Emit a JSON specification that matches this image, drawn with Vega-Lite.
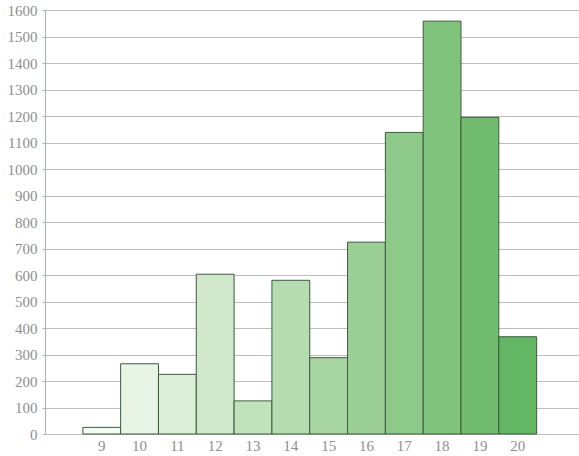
{
  "$schema": "https://vega.github.io/schema/vega-lite/v6.json",
  "width": 534,
  "height": 424,
  "autosize": {"type": "none"},
  "padding": {"left": 45, "top": 10, "right": 0, "bottom": 22},
  "background": "white",
  "config": {
    "view": {"stroke": null},
    "axis": {"labelFont": "Liberation Serif", "labelFontSize": 15, "labelColor": "#8e8e8e"}
  },
  "data": {
    "values": [
      {"x": 9, "count": 25},
      {"x": 10, "count": 265},
      {"x": 11, "count": 225},
      {"x": 12, "count": 603},
      {"x": 13, "count": 125},
      {"x": 14, "count": 580},
      {"x": 15, "count": 288},
      {"x": 16, "count": 724},
      {"x": 17, "count": 1138},
      {"x": 18, "count": 1558},
      {"x": 19, "count": 1195},
      {"x": 20, "count": 367}
    ]
  },
  "mark": {"type": "bar", "stroke": "#3d5a3d", "strokeWidth": 1},
  "encoding": {
    "x": {
      "field": "x",
      "type": "ordinal",
      "scale": {"domain": [8, 9, 10, 11, 12, 13, 14, 15, 16, 17, 18, 19, 20], "paddingInner": 0, "paddingOuter": 0.56, "align": 0},
      "axis": {"title": null, "values": [9, 10, 11, 12, 13, 14, 15, 16, 17, 18, 19, 20], "labelAngle": 0, "domain": false, "ticks": false, "labelPadding": 4, "grid": false}
    },
    "y": {
      "field": "count",
      "type": "quantitative",
      "scale": {"domain": [0, 1600], "nice": false},
      "axis": {"title": null, "format": "d", "labelOverlap": false, "values": [0,100,200,300,400,500,600,700,800,900,1000,1100,1200,1300,1400,1500,1600], "grid": true, "gridColor": "#bdbdbd", "gridWidth": 1, "domain": true, "domainColor": "#b0b0b0", "ticks": true, "tickSize": 3, "tickColor": "#b0b0b0", "labelPadding": 5}
    },
    "color": {
      "field": "x",
      "type": "quantitative",
      "scale": {"domain": [9, 20], "range": ["#f5fbf4", "#63b663"]},
      "legend": null
    }
  }
}
